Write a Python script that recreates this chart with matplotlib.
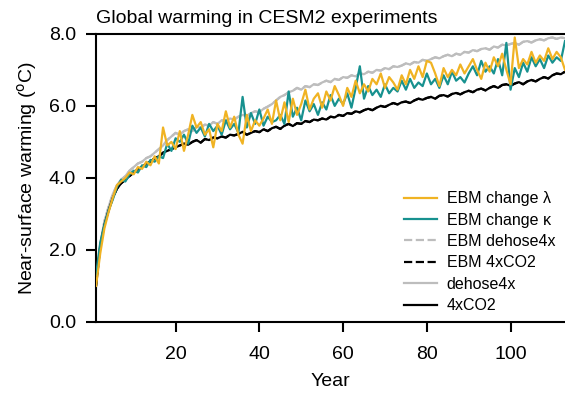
import matplotlib
matplotlib.use('Agg')
import matplotlib.pyplot as plt
from matplotlib.ticker import FormatStrFormatter

plt.rcParams['font.family'] = ['Liberation Sans', 'DejaVu Sans']

years = list(range(1, 114))

# 4xCO2 (CESM2)
co2_4x = [
    1.0, 2.1, 2.7, 3.1, 3.45, 3.7, 3.85, 3.95, 4.05, 4.15,
    4.25, 4.3, 4.4, 4.45, 4.55, 4.6, 4.7, 4.75, 4.8, 4.85,
    4.9, 4.95, 4.92, 5.0, 5.05, 4.98, 5.08, 5.05, 5.12, 5.1,
    5.15, 5.12, 5.2, 5.18, 5.22, 5.28, 5.2, 5.25, 5.3, 5.27,
    5.35, 5.3, 5.38, 5.42, 5.36, 5.45, 5.5, 5.44, 5.52, 5.5,
    5.58, 5.55, 5.62, 5.6, 5.65, 5.62, 5.7, 5.68, 5.75, 5.72,
    5.8, 5.78, 5.85, 5.82, 5.88, 5.92, 5.88, 5.95, 6.0, 5.97,
    6.03, 6.08, 6.04, 6.1, 6.12, 6.08, 6.15, 6.2, 6.17, 6.22,
    6.25, 6.2, 6.28, 6.3, 6.26, 6.33, 6.36, 6.32, 6.38, 6.42,
    6.38, 6.45, 6.48, 6.43, 6.5, 6.55, 6.5, 6.58, 6.6, 6.56,
    6.62, 6.66, 6.6, 6.68, 6.72, 6.68, 6.75, 6.8, 6.76, 6.85,
    6.9, 6.88, 6.95,
]

# dehose4x (CESM2)
dehose4x = [
    1.05, 2.15, 2.8, 3.2, 3.55, 3.8, 3.95, 4.05, 4.2, 4.3,
    4.4, 4.45, 4.55, 4.6, 4.7, 4.8, 4.9, 5.05, 5.15, 5.25,
    5.2, 5.3, 5.35, 5.3, 5.42, 5.4, 5.48, 5.45, 5.55, 5.5,
    5.6, 5.58, 5.65, 5.62, 5.7, 5.75, 5.72, 5.8, 5.85, 5.82,
    5.92, 5.98, 6.05, 6.15, 6.25, 6.3, 6.38, 6.42, 6.5, 6.45,
    6.55, 6.52, 6.6, 6.58, 6.65, 6.7, 6.66, 6.75, 6.72, 6.8,
    6.78, 6.85, 6.82, 6.9, 6.88, 6.95, 6.92, 7.0, 6.98, 7.05,
    7.02, 7.1, 7.08, 7.12, 7.18, 7.15, 7.22, 7.2, 7.28, 7.25,
    7.3, 7.35, 7.32, 7.38, 7.42, 7.38, 7.45, 7.42, 7.5, 7.48,
    7.55, 7.52, 7.58, 7.6, 7.56, 7.65, 7.62, 7.7, 7.68, 7.72,
    7.75, 7.7, 7.78, 7.8, 7.76, 7.82, 7.85, 7.82, 7.88, 7.9,
    7.86, 7.9, 7.88,
]

# EBM fits (lie under the CESM2 curves)
ebm_4xco2 = co2_4x
ebm_dehose4x = dehose4x

# EBM with changed feedback (lambda)
ebm_lambda = [
    1.0, 1.9, 2.6, 3.05, 3.45, 3.8, 3.9, 4.0, 4.15, 4.1,
    4.3, 4.25, 4.45, 4.35, 4.6, 4.4, 5.4, 4.9, 5.0, 4.8,
    5.3, 4.75, 5.2, 5.75, 5.4, 5.55, 5.2, 5.35, 4.85, 5.5,
    5.3, 5.85, 5.4, 5.7, 5.2, 4.95, 5.75, 5.3, 5.6, 5.45,
    5.65, 5.9, 5.5, 6.15, 5.6, 6.1, 5.55, 6.2, 5.75, 6.05,
    6.45, 5.9, 6.2, 6.35, 5.95, 6.4, 6.15, 6.55, 6.3, 6.0,
    6.5, 6.25, 6.7, 6.35, 6.6, 6.4, 6.75, 6.6, 6.9, 6.5,
    6.8, 6.65, 6.45, 6.85, 6.6, 7.0, 6.75, 7.1, 6.8, 7.25,
    7.2, 6.9, 6.55, 7.05, 6.8, 7.0, 6.85, 7.15, 6.9, 7.1,
    7.3, 7.0, 6.75, 7.2, 6.95, 7.35, 7.1, 7.45, 7.0, 6.6,
    7.9, 7.05, 7.3, 7.15, 7.5, 7.2, 7.4, 7.25, 7.6, 7.3,
    7.5, 7.35, 7.0,
]

# EBM with changed ocean heat uptake (kappa)
ebm_kappa = [
    1.3, 2.2, 2.7, 3.1, 3.4, 3.75, 3.95, 3.9, 4.1, 4.2,
    4.15, 4.35, 4.3, 4.5, 4.45, 4.6, 4.55, 4.95, 4.75, 5.1,
    5.0, 5.2, 4.95, 5.45, 5.25, 5.4, 5.15, 5.5, 5.3, 5.45,
    5.2, 5.6, 5.35, 5.5, 5.25, 6.25, 5.4, 5.8, 5.5, 5.9,
    5.45, 5.7, 5.55, 5.6, 5.75, 5.5, 6.4, 5.7, 5.95, 5.6,
    6.15, 5.85, 6.05, 5.75, 6.1, 5.9, 6.3, 6.0, 6.2, 6.05,
    6.35, 5.95, 6.5, 7.1, 6.2, 6.55, 6.3, 6.45, 6.25, 6.6,
    6.35, 6.5, 6.4, 6.7, 6.45, 6.75, 6.5, 6.65, 6.55, 6.9,
    6.6, 6.75, 6.5, 6.85, 6.6, 6.95, 6.7, 6.8, 6.65, 6.9,
    7.1, 6.85, 7.25, 6.95, 7.1, 6.9, 7.3, 6.85, 7.75, 6.45,
    7.05, 6.8, 7.2, 6.95, 7.35, 7.1, 7.3, 7.05, 7.4, 7.2,
    7.35, 7.25, 7.8,
]

c_lambda = '#f0b323'
c_kappa = '#17918f'
c_grey = '#bdbdbd'

fig = plt.figure(figsize=(5.65, 3.94), dpi=100)
ax = fig.add_axes([0.170, 0.183, 0.830, 0.731])

lw = 1.6
ax.plot(years, ebm_dehose4x, color=c_grey, lw=lw, ls='--', label='EBM dehose4x', zorder=1)
ax.plot(years, ebm_4xco2, color='black', lw=lw, ls='--', label='EBM 4xCO2', zorder=1)
ax.plot(years, dehose4x, color=c_grey, lw=lw, label='dehose4x', zorder=2)
ax.plot(years, co2_4x, color='black', lw=lw, label='4xCO2', zorder=2)
ax.plot(years, ebm_kappa, color=c_kappa, lw=lw, label='EBM change \u03ba', zorder=3)
ax.plot(years, ebm_lambda, color=c_lambda, lw=lw, label='EBM change \u03bb', zorder=4)

ax.set_xlim(1, 113)
ax.set_ylim(0, 8)
ax.set_xticks([20, 40, 60, 80, 100])
ax.set_yticks([0, 2, 4, 6, 8])
ax.yaxis.set_major_formatter(FormatStrFormatter('%.1f'))
ax.tick_params(direction='out', length=7.5, width=1.5, labelsize=14, pad=7)
ax.tick_params(axis='x', pad=10)

ax.spines['right'].set_visible(False)
for s in ['left', 'bottom', 'top']:
    ax.spines[s].set_linewidth(1.5)

ax.set_xlabel('Year', fontsize=14, labelpad=7)
ax.set_ylabel('Near-surface warming ($^{\\rm o}$C)', fontsize=14, labelpad=7)
ax.set_title('Global warming in CESM2 experiments', loc='left', fontsize=14, pad=8)

handles, labels = ax.get_legend_handles_labels()
order = ['EBM change \u03bb', 'EBM change \u03ba', 'EBM dehose4x', 'EBM 4xCO2', 'dehose4x', '4xCO2']
hmap = dict(zip(labels, handles))
ax.legend([hmap[k] for k in order], order, loc='lower right', frameon=False,
          fontsize=11.5, handlelength=2.1, labelspacing=0.4, handletextpad=0.6,
          borderaxespad=0.15, bbox_to_anchor=(0.998, 0.0))

fig.savefig('out.png', dpi=100)
